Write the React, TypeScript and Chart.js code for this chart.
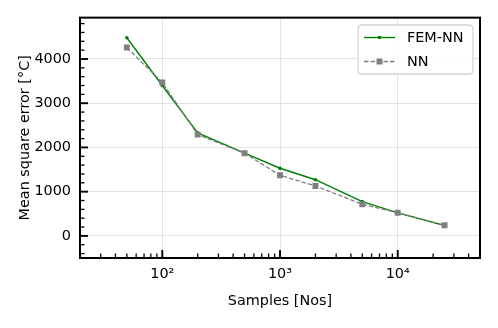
import React, { useEffect, useRef } from "react";
import { Chart, registerables } from "chart.js";

Chart.register(...registerables);

const samples = [50, 100, 200, 500, 1000, 2000, 5000, 10000, 25000];
const femNN = [4480, 3400, 2330, 1870, 1530, 1270, 775, 520, 235];
const nn = [4260, 3470, 2290, 1870, 1370, 1130, 715, 525, 240];
const xMajorTicks = [100, 1000, 10000];
const xTickLabels: Record<number, string> = { 100: "10²", 1000: "10³", 10000: "10⁴" };
const yMajorTicks = [0, 1000, 2000, 3000, 4000];
const seriesNames = ["FEM-NN", "NN"];

const FONT = "'DejaVu Sans', sans-serif";
const FS = 14.4;

const framePlugin = {
  id: "frameTicks",
  afterDraw(chart: any) {
    const { ctx, chartArea: a, scales } = chart;
    const xs = scales.x;
    const ys = scales.y;
    ctx.save();
    ctx.strokeStyle = "#000";
    // minor x ticks
    ctx.lineWidth = 1.3;
    for (let d = 10; d <= 100000; d *= 10) {
      for (let m = 2; m <= 9; m++) {
        const v = d * m;
        if (v < xs.min || v > xs.max) continue;
        const px = xs.getPixelForValue(v);
        ctx.beginPath();
        ctx.moveTo(px, a.bottom);
        ctx.lineTo(px, a.bottom - 4.5);
        ctx.stroke();
      }
    }
    // minor y ticks
    for (let v = -400; v <= 4800; v += 200) {
      if (v % 1000 === 0) continue;
      const py = ys.getPixelForValue(v);
      ctx.beginPath();
      ctx.moveTo(a.left, py);
      ctx.lineTo(a.left + 4.5, py);
      ctx.stroke();
    }
    // major ticks
    ctx.lineWidth = 1.9;
    xMajorTicks.forEach((v) => {
      const px = xs.getPixelForValue(v);
      ctx.beginPath();
      ctx.moveTo(px, a.bottom);
      ctx.lineTo(px, a.bottom - 8);
      ctx.stroke();
    });
    yMajorTicks.forEach((v) => {
      const py = ys.getPixelForValue(v);
      ctx.beginPath();
      ctx.moveTo(a.left, py);
      ctx.lineTo(a.left + 8, py);
      ctx.stroke();
    });
    // frame
    ctx.lineWidth = 2;
    ctx.strokeRect(a.left, a.top, a.right - a.left, a.bottom - a.top);

    // legend
    const lx = 358, ly = 25, lw = 115, lh = 49, r = 4;
    ctx.beginPath();
    ctx.moveTo(lx + r, ly);
    ctx.lineTo(lx + lw - r, ly);
    ctx.quadraticCurveTo(lx + lw, ly, lx + lw, ly + r);
    ctx.lineTo(lx + lw, ly + lh - r);
    ctx.quadraticCurveTo(lx + lw, ly + lh, lx + lw - r, ly + lh);
    ctx.lineTo(lx + r, ly + lh);
    ctx.quadraticCurveTo(lx, ly + lh, lx, ly + lh - r);
    ctx.lineTo(lx, ly + r);
    ctx.quadraticCurveTo(lx, ly, lx + r, ly);
    ctx.closePath();
    ctx.fillStyle = "rgba(255,255,255,0.85)";
    ctx.fill();
    ctx.strokeStyle = "#d4d4d4";
    ctx.lineWidth = 1.3;
    ctx.stroke();

    const rows = [
      { y: 37.5, color: "#008000", dash: [] as number[], marker: "circle" },
      { y: 61.5, color: "#808080", dash: [4.5, 2], marker: "rect" },
    ];
    rows.forEach((row, i) => {
      ctx.strokeStyle = row.color;
      ctx.lineWidth = 1.4;
      ctx.setLineDash(row.dash);
      ctx.beginPath();
      ctx.moveTo(364, row.y);
      ctx.lineTo(395, row.y);
      ctx.stroke();
      ctx.setLineDash([]);
      ctx.fillStyle = row.color;
      if (row.marker === "circle") {
        ctx.beginPath();
        ctx.arc(379.5, row.y, 1.8, 0, Math.PI * 2);
        ctx.fill();
      } else {
        ctx.fillRect(376.5, row.y - 3, 6, 6);
      }
      ctx.fillStyle = "#000";
      ctx.font = `${FS}px ${FONT}`;
      ctx.textBaseline = "middle";
      ctx.textAlign = "left";
      ctx.fillText(seriesNames[i], 407, row.y + 1);
    });
    ctx.restore();
  },
};

export default function App() {
  const ref = useRef<HTMLCanvasElement | null>(null);
  useEffect(() => {
    document.body.style.margin = "0";
    const canvas = ref.current!;
    const chart = new Chart(canvas, {
      type: "line",
      data: {
        datasets: [
          {
            label: seriesNames[0],
            data: samples.map((s, i) => ({ x: s, y: femNN[i] })),
            borderColor: "#008000",
            backgroundColor: "#008000",
            borderWidth: 1.4,
            pointRadius: 1.8,
            pointBorderWidth: 0,
            pointStyle: "circle",
            order: 1,
          },
          {
            label: seriesNames[1],
            data: samples.map((s, i) => ({ x: s, y: nn[i] })),
            borderColor: "#808080",
            backgroundColor: "#808080",
            borderWidth: 1.3,
            borderDash: [4.5, 2],
            pointRadius: 4.2,
            pointBorderWidth: 0,
            pointStyle: "rect",
            order: 0,
          },
        ],
      },
      options: {
        animation: false,
        responsive: false,
        maintainAspectRatio: false,
        layout: { padding: { top: 17.5, right: 18, left: 0, bottom: 0 } },
        plugins: { legend: { display: false }, tooltip: { enabled: false } },
        scales: {
          x: {
            type: "logarithmic",
            min: 20,
            max: 50000,
            afterBuildTicks: (s: any) => {
              s.ticks = xMajorTicks.map((v) => ({ value: v, major: true }));
            },
            afterFit: (s: any) => {
              s.height = 70;
            },
            ticks: {
              autoSkip: false,
              maxRotation: 0,
              color: "#000",
              padding: 8,
              font: { family: FONT, size: FS },
              callback: (v: any) => xTickLabels[Number(v)] ?? "",
            },
            grid: { color: "#e2e2e2", lineWidth: 1, drawTicks: false },
            border: { display: false },
            title: {
              display: true,
              text: "Samples [Nos]",
              color: "#000",
              font: { family: FONT, size: FS },
              padding: { top: 0, bottom: 18.4 },
            },
          },
          y: {
            type: "linear",
            min: -500,
            max: 4935,
            afterBuildTicks: (s: any) => {
              s.ticks = yMajorTicks.map((v) => ({ value: v }));
            },
            afterFit: (s: any) => {
              s.width = 80;
            },
            ticks: {
              color: "#000",
              padding: 9,
              font: { family: FONT, size: FS },
              callback: (v: any) => String(v),
            },
            grid: { color: "#e2e2e2", lineWidth: 1, drawTicks: false },
            border: { display: false },
            title: {
              display: true,
              text: "Mean square error [°C]",
              color: "#000",
              font: { family: FONT, size: FS },
              padding: { top: 16.9, bottom: 0 },
            },
          },
        },
      },
      plugins: [framePlugin],
    });
    return () => chart.destroy();
  }, []);
  return <canvas ref={ref} width={498} height={328} style={{ display: "block" }} />;
}
